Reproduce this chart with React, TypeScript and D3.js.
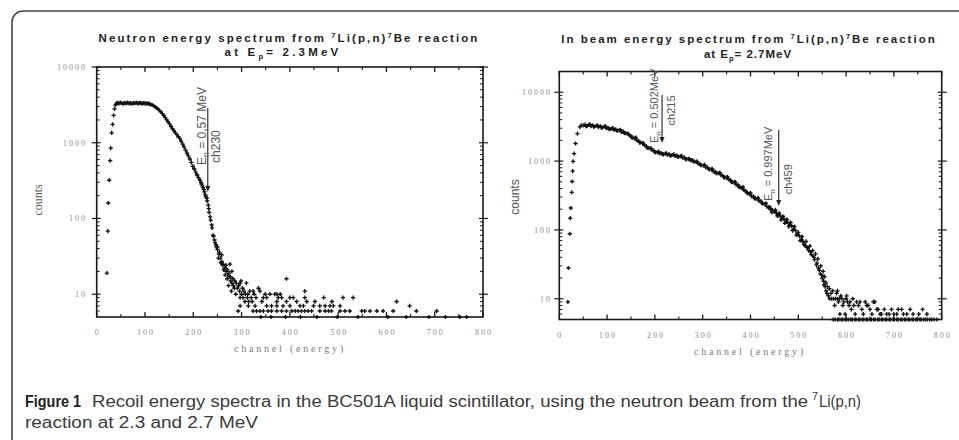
import React from "react";
import * as d3 from "d3";

type Pt = [number, number];

// ---------- data ----------
const xTickValues = [0, 100, 200, 300, 400, 500, 600, 700, 800];
const xMinorValues = [50, 150, 250, 350, 450, 550, 650, 750];
const yTickValues = [10, 100, 1000, 10000];

// Left spectrum (Ep = 2.3 MeV): [channel, counts]
const leftRise: Pt[] = [[21,19],[23,68],[24,160],[26,320],[28,580],[29,850],[31,1350],[33,1750],[35,2300],[37,2800],[39,3150],[41,3300]];
const leftCurve: Pt[] = [
  [43,3350],[46,3300],[49,3380],[52,3320],[55,3280],[58,3360],[61,3310],[64,3390],[67,3300],[70,3340],[73,3270],[76,3350],[79,3320],[82,3380],[85,3300],[88,3330],[91,3360],[94,3290],[97,3340],[100,3310],[103,3280],[106,3300],[109,3250],[112,3200],
  [115,3150],[118,3080],[121,2980],[124,2880],[127,2780],[130,2680],[133,2550],[136,2420],[139,2290],[142,2150],[145,2000],[148,1880],[151,1760],[154,1640],[157,1530],[160,1440],[163,1350],[166,1280],[169,1200],[172,1140],[175,1050],[178,960],[181,880],[184,800],[187,730],[190,670],[193,610],[196,550],[199,490],[202,450],[205,410],[208,375],[211,345],[214,320],[217,285],[220,255],[223,225],[226,195],[229,170],[232,135],[235,105],[238,82],[241,60],[244,52],[247,45],[250,39],[253,34],[256,30],[259,27],[262,25],[265,22],[268,20],[271,18],[274,17],[277,15],[280,14]
];
const leftScatter: Pt[] = [
  [216,300],[219,270],[222,240],[225,205],[228,185],[231,150],[233,120],[236,95],[239,75],[242,58],[245,48],[248,42],
  [250,42],[252,30],[254,36],[257,26],[259,33],[261,24],[263,21],[266,18],[268,24],[270,16],[271,21],[273,13],[274,19],[276,25],[277,17],[279,11],[280,20],[282,16],[283,13],[285,12],[286,15],[288,10],[289,14],[291,12],[293,6],[294,13],[296,11],[297,14],[297,9],[297,7],[299,15],[300,10],[302,12],[303,9],[305,11],[307,8],[308,10],[310,14],[312,9],[313,10],[314,7],[315,8],[317,11],[320,9],[322,8],[324,11],[324,6],[326,10],[328,7],[330,9],[331,6],[335,12],[338,11],[338,6],[342,8],[345,9],[345,6],[349,10],[352,9],[352,7],[355,6],[359,10],[362,7],[362,6],[369,10],[373,10],[373,8],[373,7],[373,6],[376,9],[380,10],[383,9],[383,6],[386,7],[393,16],[393,8],[393,6],[400,9],[400,7],[404,6],[407,9],[411,6],[414,8],[417,6],[421,7],[424,6],[428,7],[431,11],[431,9],[431,6],[435,8],[438,6],[445,6],[449,7],[452,8],[462,6],[462,7],[470,9],[473,7],[473,6],[480,6],[483,7],[486,6],[487,8],[490,7],[504,6],[504,7],[510,9],[514,6],[524,6],[531,9],[549,6],[555,6],[566,6],[580,6],[593,6],[614,6],[621,8],[648,7],[662,6],[704,6],[752,5],[766,5],
  [340,5],[361,5],[391,5],[422,5],[456,5],[498,5],[541,5],[603,5],[641,5],[688,5],[722,5]
];

// Right spectrum (Ep = 2.7 MeV): [channel, counts]
const rightRise: Pt[] = [[18,9],[19,28],[22,88],[23,148],[24,208],[26,352],[27,505],[28,714],[29,990],[31,1280],[34,1800],[38,2500],[43,3140],[46,3300]];
const rightCurve: Pt[] = [
  [50,3300],[54,3380],[58,3250],[62,3350],[66,3220],[70,3310],[74,3180],[78,3260],[82,3120],[86,3200],[90,3060],[94,3150],[98,3020],[102,3050],[106,2940],[110,2960],[114,2850],[118,2890],[122,2760],[126,2790],[130,2660],[134,2670],[138,2540],[142,2510],[146,2380],[150,2310],[154,2190],[158,2130],[162,2010],[166,1960],[170,1860],[174,1810],[178,1700],[182,1650],[186,1560],[190,1530],[194,1450],[198,1420],[202,1350],[206,1340],[210,1290],[214,1300],[218,1250],[222,1280],[226,1240],[230,1250],[234,1210],[238,1230],[242,1190],[246,1200],[250,1160],[254,1170],[258,1120],[262,1120],[266,1070],[270,1070],[274,1030],[278,1030],[282,990],[286,970],[290,925],[294,910],[298,870],[302,860],[306,815],[310,810],[314,760],[318,760],[322,710],[326,705],[330,670],[334,665],[338,630],[342,615],[346,580],[350,575],[354,540],[358,530],[362,495],[366,490],[370,455],[374,450],[378,415],[382,405],[386,380],[390,370],[394,340],[398,335],[402,310],[406,308],[410,285],[414,283],[418,265],[422,262],[426,240],[430,238],[434,220],[438,213],[442,198],[446,194],[450,182],[454,177],[458,163],[462,160],[466,148],[470,144],[474,133],[478,130],[482,120],[486,115],[490,103],[494,98],[498,87],[502,82],[506,73],[510,68],[514,59],[518,56],[522,50],[526,48],[530,42],[534,37],[538,31],[542,28],[546,23],[550,20],[554,16],[558,13]
];
const rightBand: Pt[] = [
  [56,3200],[64,3420],[72,3150],[80,3300],[88,3080],[96,3220],[104,2900],[112,3010],[120,2780],[128,2850],[136,2560],[144,2500],[152,2180],[160,2200],[168,1850],[176,1820],[184,1560],[192,1530],[200,1340],[208,1370],[216,1260],[224,1300],[232,1200],[240,1250],[248,1150],[256,1190],[264,1070],[272,1080],[280,990],[288,990],[296,870],[304,880],[312,770],[320,770],[328,665],[336,680],[344,580],[352,590],[360,500],[368,500],[376,420],[384,420],[392,350],[400,345],[408,290],[416,292],[424,245],[432,244],[440,205]
];
const rightScatter: Pt[] = [
  [440,215],[445,180],[452,195],[456,160],[460,175],[464,140],[468,158],[472,125],[476,142],[480,112],[484,128],[488,98],[492,112],[496,84],[500,92],[504,70],[508,80],[512,62],[516,68],[520,53],[524,58],[527,44],[530,50],[533,40],[536,45],[539,33],[541,38],[544,26],[547,30],[549,22],[552,25],[553,18],[555,21],[556,15],[558,17],[560,12],[561,15],[563,11],[565,14],[566,10],[568,12],[570,10],[572,13],[574,10],[576,8],[578,10],[580,12],[582,13],[582,10],[584,9],[586,10],[587,6],[589,11],[591,10],[593,8],[595,9],[598,6],[600,10],[601,11],[603,9],[606,8],[608,9],[611,7],[614,10],[616,8],[619,6],[622,9],[626,8],[629,9],[633,7],[636,6],[640,9],[643,8],[646,8],[650,7],[654,6],[657,9],[660,9],[664,7],[667,7],[671,6],[674,6],[680,7],[685,6],[690,6],[695,7],[700,6],[706,6],[709,7],[716,7],[720,6],[727,6],[734,7],[740,6],[752,6],[760,7],[769,6]
];
const rightFloor: Pt[] = [
  [573,5],[577,5],[582,5],[585,5],[590,5],[593,5],[598,5],[601,5],[605,5],[610,5],[613,5],[618,5],[621,5],[626,5],[629,5],[634,5],[637,5],[642,5],[645,5],[650,5],[653,5],[658,5],[661,5],[666,5],[669,5],[674,5],[677,5],[682,5],[685,5],[690,5],[693,5],[698,5],[701,5],[706,5],[709,5],[714,5],[717,5],[722,5],[725,5],[730,5],[733,5],[738,5],[741,5],[746,5],[749,5],[754,5],[757,5],[762,5],[766,5],[770,5],[775,5],[779,5],[784,5],[790,5]
];

// ---------- fonts ----------
const SANS = "'Liberation Sans', Arial, sans-serif";
const SERIF = "'Liberation Serif', 'Times New Roman', serif";
const NARROW = "'Liberation Sans Narrow', 'Liberation Sans', Arial, sans-serif";

type Annot = {
  ch: number; tipV: number; topV: number;
  eText: string; eDx: number; eStartV: number; size: number;
  chText: string; chDx: number; chStartV: number;
};

type PanelProps = {
  x0: number; x1: number; yTop: number; yBottom: number; yMax: number;
  series: Pt[][];
  yLabelEnd: number;
  countsX: number; countsY: number; countsFont: string; countsSize: number;
  chanX: number;
  annots: Annot[];
};

function Panel(p: PanelProps) {
  const x = d3.scaleLinear().domain([0, 800]).range([p.x0, p.x1]);
  const y = d3.scaleLog().domain([5, p.yMax]).range([p.yBottom, p.yTop]);
  const minorY: number[] = [];
  [1, 10, 100, 1000, 10000].forEach((d) => {
    for (let k = 2; k <= 9; k++) {
      const v = k * d;
      if (v > 5 && v < p.yMax) minorY.push(v);
    }
  });
  const m = 2.1;
  const d = p.series
    .flat()
    .map(([c, v]) => {
      const px = x(c), py = y(v);
      return `M${(px - m).toFixed(2)},${py.toFixed(2)}h${2 * m}M${px.toFixed(2)},${(py - m).toFixed(2)}v${2 * m}`;
    })
    .join("");
  const axisColor = "#1a1a1a";
  const labelColor = "#8c8c8c";
  return (
    <g>
      <rect x={p.x0} y={p.yTop} width={p.x1 - p.x0} height={p.yBottom - p.yTop} fill="none" stroke={axisColor} strokeWidth={1.6} />
      {xTickValues.map((t) => (
        <g key={"xt" + t}>
          <line x1={x(t)} x2={x(t)} y1={p.yBottom} y2={p.yBottom - 5} stroke={axisColor} strokeWidth={1.3} />
          <line x1={x(t)} x2={x(t)} y1={p.yTop} y2={p.yTop + 5} stroke={axisColor} strokeWidth={1.3} />
          <text x={x(t) + 1} y={p.yBottom + 18} textAnchor="middle" fontFamily={SERIF} fontSize={8} letterSpacing={2} fill={labelColor}>{t}</text>
        </g>
      ))}
      {xMinorValues.map((t) => (
        <g key={"xm" + t}>
          <line x1={x(t)} x2={x(t)} y1={p.yBottom} y2={p.yBottom - 3} stroke={axisColor} strokeWidth={1.1} />
          <line x1={x(t)} x2={x(t)} y1={p.yTop} y2={p.yTop + 3} stroke={axisColor} strokeWidth={1.1} />
        </g>
      ))}
      {yTickValues.map((t) => (
        <g key={"yt" + t}>
          <line x1={p.x0 - 5} x2={p.x0 + 4} y1={y(t)} y2={y(t)} stroke={axisColor} strokeWidth={1.2} />
          <line x1={p.x1 - 4} x2={p.x1 + 5} y1={y(t)} y2={y(t)} stroke={axisColor} strokeWidth={1.2} />
          <text x={p.yLabelEnd} y={y(t) + 3} textAnchor="end" fontFamily={SERIF} fontSize={8} letterSpacing={2} fill={labelColor}>{t}</text>
        </g>
      ))}
      {minorY.map((t) => (
        <g key={"ym" + t}>
          <line x1={p.x0} x2={p.x0 + 3} y1={y(t)} y2={y(t)} stroke={axisColor} strokeWidth={1} />
          <line x1={p.x1 - 3} x2={p.x1} y1={y(t)} y2={y(t)} stroke={axisColor} strokeWidth={1} />
        </g>
      ))}
      <path d={d} stroke="#111" strokeWidth={1.35} fill="none" />
      <text transform={`translate(${p.countsX},${p.countsY}) rotate(-90)`} textAnchor="middle" fontFamily={p.countsFont} fontSize={p.countsSize} fill="#555">counts</text>
      <text x={p.chanX} y={p.yBottom + 35} textAnchor="middle" fontFamily={SERIF} fontSize={10} letterSpacing={2.8} fill="#7a7a7a">channel (energy)</text>
      {p.annots.map((a, i) => {
        const lx = x(a.ch);
        const tip = y(a.tipV);
        const top = y(a.topV);
        return (
          <g key={"an" + i}>
            <line x1={lx} x2={lx} y1={top} y2={tip - 5} stroke="#333" strokeWidth={1.2} />
            <path d={`M${lx - 2.5},${tip - 6}L${lx + 2.5},${tip - 6}L${lx},${tip}Z`} fill="#222" />
            <text transform={`translate(${lx + a.eDx},${y(a.eStartV)}) rotate(-90)`} fontFamily={NARROW} fontSize={a.size} fill="#555">
              E<tspan fontSize={a.size * 0.72} dy={3}>n</tspan><tspan dy={-3}>{a.eText}</tspan>
            </text>
            <text transform={`translate(${lx + a.chDx},${y(a.chStartV)}) rotate(-90)`} fontFamily={NARROW} fontSize={a.size} fill="#555">{a.chText}</text>
          </g>
        );
      })}
    </g>
  );
}

export default function App() {
  return (
    <svg width={959} height={440} style={{ position: "absolute", left: 0, top: 0, background: "#fff" }}>
      <rect x={0} y={0} width={959} height={440} fill="#fff" />
      <path d="M12,440 V22 A11,11 0 0 1 23,11 H959" fill="none" stroke="#444" strokeWidth={1.6} />

      <text x={289} y={42} textAnchor="middle" fontFamily={SANS} fontWeight="bold" fontSize={11.5} letterSpacing={2.1} fill="#222">
        Neutron energy spectrum from <tspan fontSize={7.5} dy={-4}>7</tspan><tspan dy={4}>Li(p,n)</tspan><tspan fontSize={7.5} dy={-4}>7</tspan><tspan dy={4}>Be reaction</tspan>
      </text>
      <text x={283} y={56} textAnchor="middle" fontFamily={SANS} fontWeight="bold" fontSize={11.5} letterSpacing={3.2} fill="#222">
        at E<tspan fontSize={7.5} dy={3}>p</tspan><tspan dy={-3}>= 2.3MeV</tspan>
      </text>

      <text x={749} y={43} textAnchor="middle" fontFamily={SANS} fontWeight="bold" fontSize={11.5} letterSpacing={2.0} fill="#222">
        In beam energy spectrum from <tspan fontSize={7.5} dy={-4}>7</tspan><tspan dy={4}>Li(p,n)</tspan><tspan fontSize={7.5} dy={-4}>7</tspan><tspan dy={4}>Be reaction</tspan>
      </text>
      <text x={748} y={58} textAnchor="middle" fontFamily={SANS} fontWeight="bold" fontSize={11.5} letterSpacing={1.0} fill="#222">
        at E<tspan fontSize={7.5} dy={3}>p</tspan><tspan dy={-3}>= 2.7MeV</tspan>
      </text>

      <Panel
        x0={96.7} x1={483} yTop={67} yBottom={317} yMax={10000}
        series={[leftRise, leftCurve, leftScatter]}
        yLabelEnd={87}
        countsX={42} countsY={200} countsFont={SERIF} countsSize={12}
        chanX={290}
        annots={[
          { ch: 230, tipV: 224, topV: 2884, eText: " = 0,57 MeV", eDx: -2, eStartV: 509, size: 12, chText: "ch230", chDx: 12, chStartV: 541 },
        ]}
      />
      <Panel
        x0={559.3} x1={941.7} yTop={71.5} yBottom={319.5} yMax={20000}
        series={[rightRise, rightCurve, rightBand, rightScatter, rightFloor]}
        yLabelEnd={552}
        countsX={519} countsY={197} countsFont={SANS} countsSize={12}
        chanX={750}
        annots={[
          { ch: 215, tipV: 1828, topV: 9100, eText: " = 0.502MeV", eDx: -4, eStartV: 1828, size: 11, chText: "ch215", chDx: 13, chStartV: 3300 },
          { ch: 459, tipV: 222, topV: 2825, eText: " = 0.997MeV", eDx: -7, eStartV: 262, size: 11, chText: "ch459", chDx: 13, chStartV: 330 },
        ]}
      />

      <text x={25} y={407} fontFamily={NARROW} fontWeight="bold" fontSize={16} fill="#222" textLength={56} lengthAdjust="spacingAndGlyphs">Figure 1</text>
      <text x={92} y={407} fontFamily={NARROW} fontSize={16} fill="#3a3a3a" textLength={716} lengthAdjust="spacingAndGlyphs">Recoil energy spectra in the BC501A liquid scintillator, using the neutron beam from the</text>
      <text x={812} y={400} fontFamily={NARROW} fontSize={11} fill="#3a3a3a">7</text>
      <text x={819} y={407} fontFamily={NARROW} fontSize={16} fill="#3a3a3a" textLength={42} lengthAdjust="spacingAndGlyphs">Li(p,n)</text>
      <text x={25} y={428} fontFamily={NARROW} fontSize={16} fill="#3a3a3a" textLength={233} lengthAdjust="spacingAndGlyphs">reaction at 2.3 and 2.7 MeV</text>
    </svg>
  );
}
